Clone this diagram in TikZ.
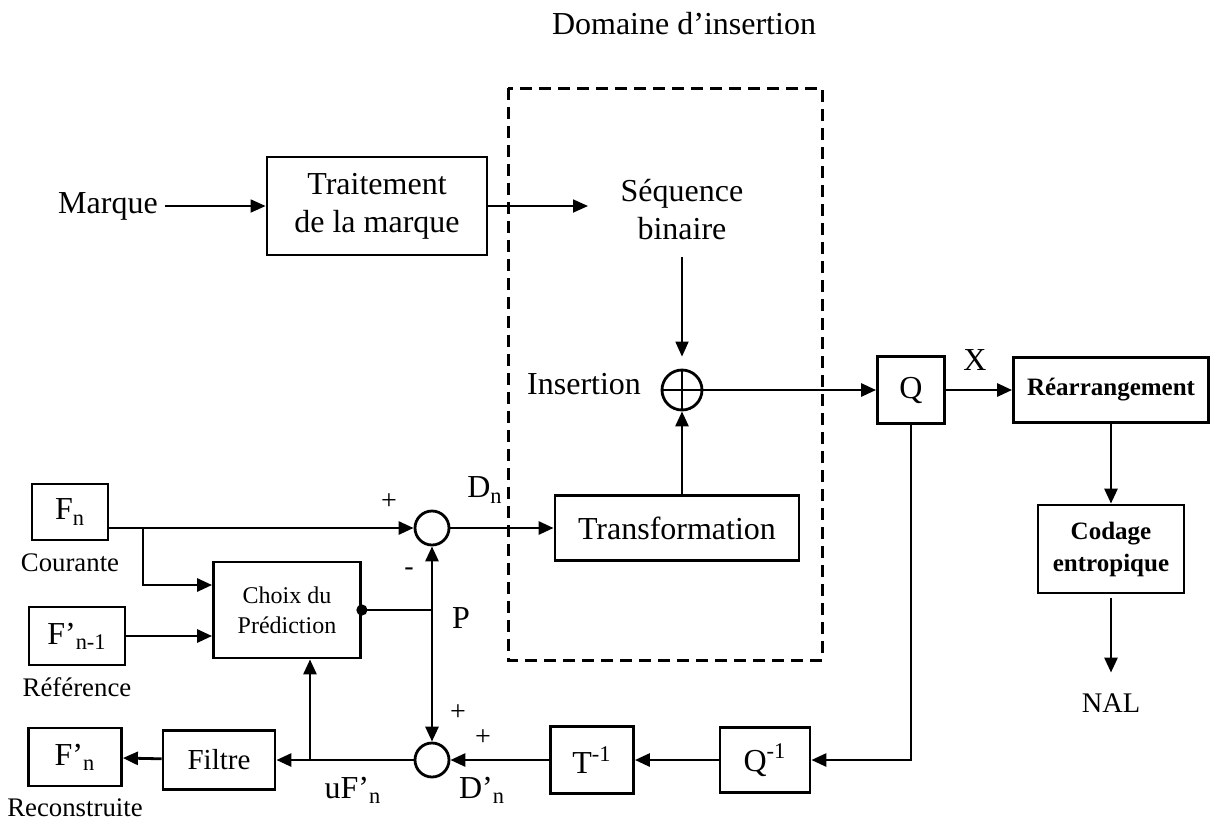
\documentclass[tikz,border=0pt]{standalone}
\usepackage{fontspec}
\setmainfont{Liberation Serif}
\usetikzlibrary{arrows.meta,positioning}

\begin{document}
\begin{tikzpicture}[
  x=0.5pt, y=-0.5pt,
  bloc/.style={draw, line width=1.4pt, align=center, inner sep=2pt, font=\fontsize{16}{19}\selectfont},
  somme/.style={draw, circle, line width=1.4pt, minimum size=17pt, inner sep=0pt},
  lbl/.style={font=\fontsize{16}{19}\selectfont},
  petit/.style={font=\fontsize{13.4}{16}\selectfont},
  signe/.style={font=\fontsize{14}{16}\selectfont},
  link/.style={-{Triangle[length=7.5pt,width=6.5pt]}, line width=1.4pt},
  dlink/.style={{Triangle[length=7.5pt,width=6.5pt]}-{Triangle[length=7.5pt,width=6.5pt]}, line width=1.4pt}
]
\useasboundingbox (0,0) rectangle (1211,821);
\node[lbl] (titre) at (684,24) {Domaine d’insertion};
\draw[line width=1.5pt, dash pattern=on 6pt off 3.5pt] (508,88) rectangle (822,660);

\node[lbl] (marque) at (108,206) {Marque};
\node[bloc, minimum width=110pt, minimum height=49pt] (trait) at (377,206) {Traitement\\de la marque};
\draw[link, line width=0.9pt] (marque) -- (trait);
\coordinate (seqin) at (588,206);
\draw[link, line width=0.9pt] (trait) -- (seqin);
\node[lbl, align=center] (seq) at (682,210) {Séquence\\binaire};

\node[somme, minimum size=20pt] (ins) at (682,390) {};
\draw[line width=1.1pt] (ins.north) -- (ins.south) (ins.west) -- (ins.east);
\draw[link, line width=0.9pt, shorten <=5pt, shorten >=6pt] (seq) -- (ins);
\node[lbl, anchor=east] (linsert) at (648,384) {Insertion};

\node[bloc, minimum size=33.5pt] (q) at (911,390) {Q};
\draw[link] (ins) -- (q);
\node[lbl] (x) at (975,360) {X};
\node[bloc, font=\bfseries\fontsize{12.5}{15}\selectfont, minimum width=97.5pt, minimum height=32.5pt] (rear) at (1111,390) {Réarrangement};
\draw[link] (q) -- (rear);
\node[bloc, font=\bfseries\fontsize{12.5}{16}\selectfont, minimum width=73pt, minimum height=44pt] (code) at (1111,549) {Codage\\entropique};
\draw[link] (rear) -- (code);
\node[lbl, font=\fontsize{14.2}{17}\selectfont] (nal) at (1111,703) {NAL};
\draw[link, shorten <=2pt, shorten >=7pt] (code) -- (nal);

\node[bloc, minimum width=45pt, minimum height=32.5pt] (qinv) at (765,760) {Q\textsuperscript{-1}};
\node[bloc, minimum width=41.5pt, minimum height=33.5pt] (tinv) at (592,760) {T\textsuperscript{-1}};
\draw[link] (q) |- (qinv);
\draw[link] (qinv) -- (tinv);
\node[somme] (s2) at (432,760) {};
\draw[link] (tinv) -- (s2);

\node[somme] (s1) at (432,528) {};
\node[bloc, minimum width=122pt, minimum height=32.5pt] (trans) at (677,528) {Transformation};
\draw[link] (s1) -- (trans);
\draw[link] (trans.north -| ins) -- (ins);

\node[bloc, minimum width=38pt, minimum height=28pt] (fn) at (70,512) {F\textsubscript{n}};
\node[petit, below=2.5pt of fn] (courante) {Courante};
\draw[link] (fn.east |- s1) -- (s1);
\node[bloc, font=\fontsize{12}{15}\selectfont, minimum width=73.5pt, minimum height=48pt] (choix) at (287,610) {Choix du\\Prédiction};
\coordinate (br) at (143,528);
\draw[link] (br) |- ([yshift=12.5pt]choix.west);
\node[bloc, minimum width=48pt, minimum height=29pt] (fref) at (77,636) {F’\textsubscript{n-1}};
\node[petit, below=2pt of fref] (reference) {Référence};
\draw[link] (fref) -- (fref -| choix.west);
\fill (choix.east) circle (2.8pt);
\coordinate (p) at (s1 |- choix.east);
\draw[line width=0.6pt] (choix.east) -- (p);
\draw[dlink] (s1) -- (s2);
\node[lbl] (lp) at (461,618) {P};

\node[bloc, font=\fontsize{14.5}{17}\selectfont, minimum width=56pt, minimum height=29.5pt] (filtre) at (219,760) {Filtre};
\node[bloc, minimum width=46.5pt, minimum height=29pt] (fnr) at (75,757) {F’\textsubscript{n}};
\node[petit, below=2pt of fnr] (recons) {Reconstruite};
\draw[link] (s2) -- (filtre);
\coordinate (u) at (310,760);
\draw[link] (u) -- (u |- choix.south);
\draw[link] (filtre) -- (fnr);

\node[signe] (p1) at (389,502) {+};
\node[signe] (m1) at (409,572) {-};
\node[signe] (p2) at (458,713) {+};
\node[signe] (p3) at (483,738) {+};
\node[lbl] (dn) at (485,490) {D\textsubscript{n}};
\node[lbl] (dpn) at (482,790) {D’\textsubscript{n}};
\node[lbl] (ufn) at (353,790) {uF’\textsubscript{n}};
\end{tikzpicture}
\end{document}
